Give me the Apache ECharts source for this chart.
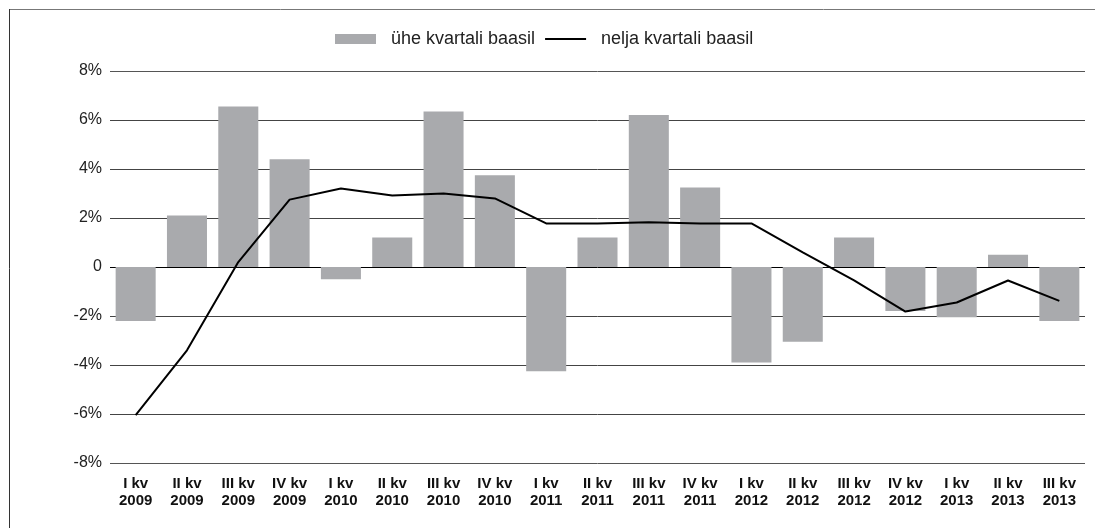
<!DOCTYPE html>
<html>
<head>
<meta charset="utf-8">
<script src="https://cdn.jsdelivr.net/npm/echarts@6/dist/echarts.min.js"></script>
<style>
  html, body { margin: 0; padding: 0; background: #fff; }
  #chart { width: 1095px; height: 528px; }
</style>
</head>
<body>
<div id="chart"></div>
<script>
// kvartalid
const categories = [
  'I kv\n2009', 'II kv\n2009', 'III kv\n2009', 'IV kv\n2009',
  'I kv\n2010', 'II kv\n2010', 'III kv\n2010', 'IV kv\n2010',
  'I kv\n2011', 'II kv\n2011', 'III kv\n2011', 'IV kv\n2011',
  'I kv\n2012', 'II kv\n2012', 'III kv\n2012', 'IV kv\n2012',
  'I kv\n2013', 'II kv\n2013', 'III kv\n2013'
]
// ühe kvartali baasil (tulbad)
const quarterData = [
  -2.2, 2.1, 6.55, 4.4, -0.5, 1.2, 6.35, 3.75, -4.25, 1.2,
  6.2, 3.25, -3.9, -3.05, 1.2, -1.8, -2.05, 0.5, -2.2
]
// nelja kvartali baasil (joon)
const yearData = [
  -6.05, -3.4, 0.2, 2.75, 3.2, 2.92, 3.0, 2.8, 1.78, 1.78,
  1.83, 1.78, 1.78, 0.6, -0.55, -1.82, -1.45, -0.55, -1.38
]
const seriesNames = ['ühe kvartali baasil', 'nelja kvartali baasil']

const chart = echarts.init(document.getElementById('chart'))
const font = '"Liberation Sans", Arial, sans-serif'

const option = {
  animation: false,
  textStyle: { fontFamily: font },
  graphic: [
    { // raam: ülemine ja vasak serv
      type: 'line',
      shape: { x1: 9, y1: 9.5, x2: 1095, y2: 9.5 },
      style: { stroke: '#777', lineWidth: 1 },
      silent: true
    },
    {
      type: 'line',
      shape: { x1: 9.5, y1: 9, x2: 9.5, y2: 528 },
      style: { stroke: '#333', lineWidth: 1 },
      silent: true
    }
  ],
  legend: {
    top: 25,
    left: 330,
    itemWidth: 41,
    itemHeight: 10,
    itemGap: 10,
    textStyle: { color: '#222', fontSize: 18, padding: [0, 0, 0, 10] },
    data: [
      { name: seriesNames[0], icon: 'rect' },
      { name: seriesNames[1], icon: 'path://M0,0H40V2H0Z' }
    ]
  },
  grid: {
    left: 110,
    right: 10,
    top: 71,
    bottom: 65
  },
  xAxis: {
    type: 'category',
    data: categories,
    axisLine: { show: false },
    axisTick: { show: false },
    axisLabel: {
      color: '#111',
      fontWeight: 'bold',
      fontSize: 15,
      lineHeight: 17,
      margin: 12,
      interval: 0
    }
  },
  yAxis: {
    type: 'value',
    min: -8,
    max: 8,
    interval: 2,
    axisLine: { show: false },
    axisTick: { show: false },
    axisLabel: {
      color: '#222',
      fontSize: 16,
      margin: 8,
      formatter: v => (v === 0 ? '0' : v + '%')
    },
    splitLine: {
      lineStyle: {
        color: ['#555', '#444', '#444', '#444', '#000', '#444', '#444', '#444', '#555'],
        width: 1
      }
    }
  },
  series: [
    {
      name: seriesNames[0],
      type: 'bar',
      data: quarterData,
      barCategoryGap: '22%',
      itemStyle: { color: '#a9aaad' }
    },
    {
      name: seriesNames[1],
      type: 'line',
      data: yearData,
      symbol: 'none',
      lineStyle: { color: '#000', width: 2 },
      itemStyle: { color: '#000' },
      z: 5
    }
  ]
}

chart.setOption(option)
</script>
</body>
</html>
